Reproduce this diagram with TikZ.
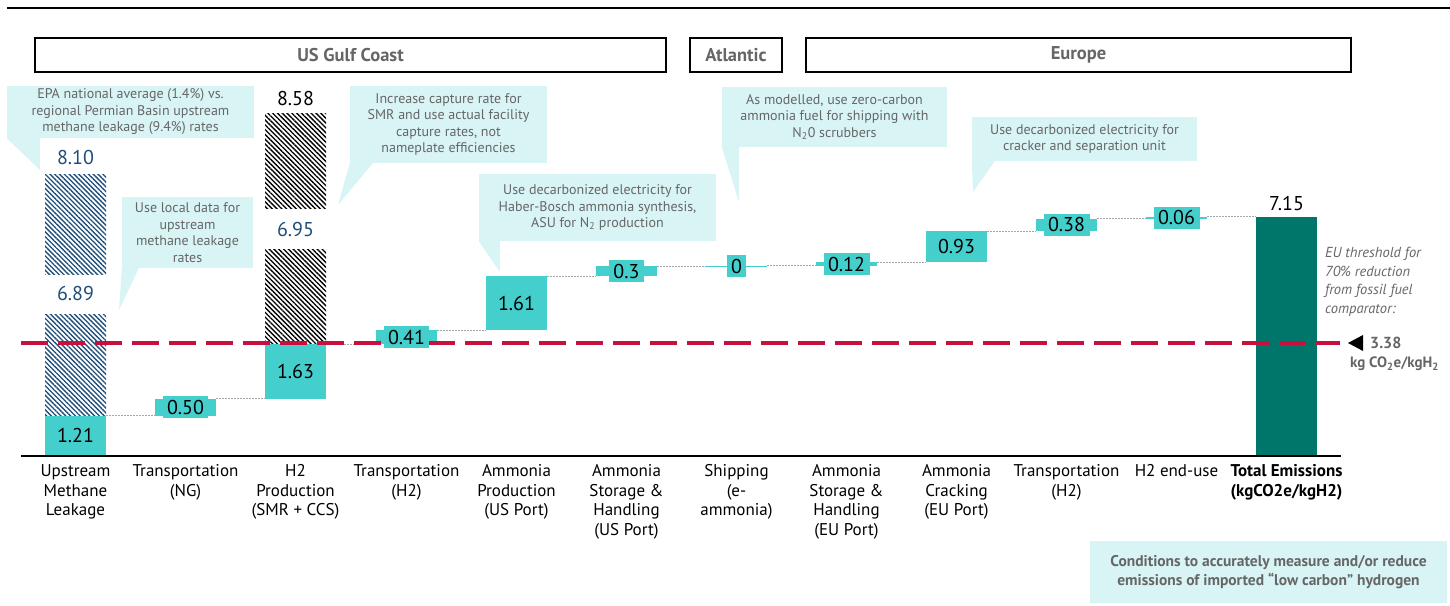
\documentclass[tikz,border=0pt]{standalone}
\usepackage{fontspec}
\setmainfont{PT Sans}
\usetikzlibrary{positioning, calc, patterns.meta}

\definecolor{teal1}{HTML}{45CFCC}
\definecolor{teal2}{HTML}{00766B}
\definecolor{cfill}{HTML}{D9F4F5}
\definecolor{txtgray}{HTML}{666666}
\definecolor{navy}{HTML}{1F4E79}
\definecolor{crimson}{HTML}{C8103E}

\begin{document}
\begin{tikzpicture}[x=1pt, y=-1pt,
    bar/.style={fill=teal1, inner sep=0pt, outer sep=0pt, minimum width=61pt, anchor=south west},
    val/.style={font=\fontsize{20}{24}\selectfont, inner sep=0pt},
    vbox/.style={val, fill=teal1, inner xsep=4.5pt, inner ysep=4pt, text height=14pt, text depth=0pt},
    link/.style={gray!70, line width=0.8pt, dash pattern=on 2pt off 1pt},
    cat/.style={font=\fontsize{17}{19.5}\selectfont, align=center, anchor=north, inner sep=0pt},
    region/.style={draw, line width=1.5pt, text=txtgray, font=\bfseries\fontsize{18.5}{20}\selectfont, minimum height=34pt, inner sep=0pt},
    callout/.style={fill=cfill, text=txtgray, font=\fontsize{14}{16.5}\selectfont, align=center, inner sep=0pt},
    hatch/.style={pattern={Lines[angle=-45, distance=3.4pt, line width=1.35pt]}}]
    \useasboundingbox (0,0) rectangle (1450,605);

    \draw[line width=2pt] (7,8) -- (1450,8);

    % regions
    \node[region, minimum width=631pt] (gulf) at (350.5,55) {US Gulf Coast};
    \node[region, minimum width=92pt] (atlantic) at (736,55) {Atlantic};
    \node[region, minimum width=545pt] (europe) at (1078.5,55) {Europe};

    % callouts
    \node[callout, minimum width=247pt, minimum height=52pt] (c1) at (130.5,112) {EPA national average (1.4\%) vs.\\regional Permian Basin upstream\\methane leakage (9.4\%) rates};
    \fill[cfill] (c1.south west) -- ++(33,0) -- (40,170) -- cycle;
    \node[callout, minimum width=131pt, minimum height=71pt] (c2) at (187.5,232.5) {Use local data for\\upstream\\methane leakage\\rates};
    \fill[cfill] (c2.south west) -- ++(17,0) -- (119,310) -- cycle;
    \node[callout, minimum width=197pt, minimum height=77pt] (c3) at (448.5,124.5) {Increase capture rate for\\SMR and use actual facility\\capture rates, not\\nameplate efficiencies};
    \fill[cfill] (c3.south west) -- ++(23,0) -- (338,205) -- cycle;
    \node[callout, minimum width=237pt, minimum height=67pt] (c4) at (597.5,207.5) {Use decarbonized electricity for\\Haber-Bosch ammonia synthesis,\\ASU for N\textsubscript{2} production};
    \fill[cfill] (c4.south west) -- ++(21,0) -- (500,272) -- cycle;
    \node[callout, minimum width=225pt, minimum height=60pt] (c5) at (834.5,117) {As modelled, use zero-carbon\\ammonia fuel for shipping with\\N\textsubscript{2}0 scrubbers};
    \fill[cfill] (c5.south west) -- ++(17,0) -- (739,202) -- cycle;
    \node[callout, minimum width=225pt, minimum height=44pt] (c6) at (1084.5,139) {Use decarbonized electricity for\\cracker and separation unit};
    \fill[cfill] (c6.south west) -- ++(23,0) -- (973,192) -- cycle;
    \node[callout, font=\bfseries\fontsize{15.5}{19}\selectfont, minimum width=357pt, minimum height=62pt] (note) at (1268.5,572) {Conditions to accurately measure and/or reduce\\emissions of imported “low carbon” hydrogen};

    % alternative scenarios (hatched)
    \fill[hatch, pattern color=navy] (45,174) rectangle (106,274);
    \fill[hatch, pattern color=navy] (45,314) rectangle (106,415.5);
    \fill[hatch, pattern color=black] (265,113) rectangle (326,208);
    \fill[hatch, pattern color=black] (265,249) rectangle (326,344.1);
    \node[val, text=navy] (alt1) at (75.5,157) {8.10};
    \node[val, text=navy] (alt2) at (75.5,293) {6.89};
    \node[val] (alt3) at (295.5,98) {8.58};
    \node[val, text=navy] (alt4) at (295.5,229) {6.95};

    % waterfall bars
    \foreach \n/\xl/\yb/\yt in {1/45/456/415.5, 2/155/415.5/398.7, 3/265/398.7/344.1,
        4/376/344.1/330.4, 5/486/330.4/276.4, 6/596/276.4/266.4, 7/706/267.2/265.6,
        8/816/266.4/262.4, 9/926/262.4/231.2, 10/1036/231.2/218.5, 11/1146/218.5/216.5}
        \node[bar, minimum height={(\yb-\yt)*1pt}] (b\n) at (\xl,\yb) {};
    \node[bar, fill=teal2, minimum height=239.5pt] (b12) at (1256,456) {};

    \foreach \i [count=\j from 2] in {1,...,11}
        \draw[link] (b\i.north east) -- (b\i.north east -| b\j.west);

    % axis and threshold
    \coordinate (axisL) at (21,456);
    \coordinate (axisR) at (1341,456);
    \draw[line width=2.5pt] (axisL) -- (axisR);
    \coordinate (thrL) at (21,343);
    \coordinate (thrR) at (1340,343);
    \draw[crimson, line width=3.5pt, dash pattern=on 27pt off 10pt] (thrL) -- (thrR);
    \fill (1348,343) -- (1363,335) -- (1363,351) -- cycle;
    \node[anchor=west, inner sep=0pt, text=txtgray, font=\bfseries\fontsize{16}{18}\selectfont] (thr) at (1370,343) {3.38};
    \node[anchor=west, inner sep=0pt, text=txtgray, font=\bfseries\fontsize{15}{17}\selectfont] (unit) at (1350,364) {kg CO\textsubscript{2}e/kgH\textsubscript{2}};
    \node[anchor=north west, inner sep=0pt, align=left, text=txtgray, font=\itshape\fontsize{14.5}{18.5}\selectfont] (eu) at (1325,247) {EU threshold for\\70\% reduction\\from fossil fuel\\comparator:};

    % values
    \node[val] (v1) at (b1) {1.21};
    \node[vbox] (v2) at (b2) {0.50};
    \node[val] (v3) at (b3) {1.63};
    \node[vbox] (v4) at (b4) {0.41};
    \node[val] (v5) at (b5) {1.61};
    \node[vbox] (v6) at (b6) {0.3};
    \node[vbox] (v7) at (b7) {0};
    \node[vbox] (v8) at (b8) {0.12};
    \node[val] (v9) at (b9) {0.93};
    \node[vbox] (v10) at (b10) {0.38};
    \node[vbox] (v11) at (b11) {0.06};
    \node[val, above=6pt of b12.north] (v12) {7.15};

    % categories
    \foreach \i/\t in {1/{Upstream\\Methane\\Leakage}, 2/{Transportation\\(NG)},
        3/{H2\\Production\\(SMR + CCS)}, 4/{Transportation\\(H2)},
        5/{Ammonia\\Production\\(US Port)}, 6/{Ammonia\\Storage \&\\Handling\\(US Port)},
        7/{Shipping\\(e-\\ammonia)}, 8/{Ammonia\\Storage \&\\Handling\\(EU Port)},
        9/{Ammonia\\Cracking\\(EU Port)}, 10/{Transportation\\(H2)}, 11/{H2 end-use},
        12/{\textbf{Total Emissions}\\\textbf{(kgCO2e/kgH2)}}}
        \node[cat, yshift=-8.5pt] (cat\i) at (b\i.south |- axisL) {\t};
\end{tikzpicture}
\end{document}
